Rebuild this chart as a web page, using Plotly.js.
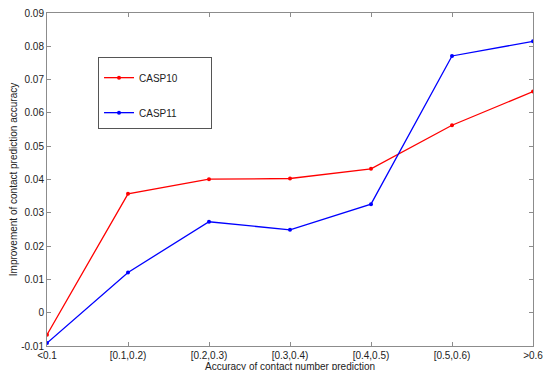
<!DOCTYPE html>
<html>
<head>
<meta charset="utf-8">
<script src="https://cdn.plot.ly/plotly-3.0.1.min.js"></script>
<style>html,body{margin:0;padding:0;background:#fff;}#chart{width:543px;height:370px;}</style>
</head>
<body>
<div id="chart"></div>
<script>
var categories = ["<0.1", "[0.1,0.2)", "[0.2,0.3)", "[0.3,0.4)", "[0.4,0.5)", "[0.5,0.6)", ">0.6"];
var casp10 = [-0.0066, 0.0357, 0.0401, 0.0403, 0.0432, 0.0563, 0.0664];
var casp11 = [-0.0091, 0.0121, 0.0273, 0.0249, 0.0326, 0.0771, 0.0815];
var yTickVals = [-0.01, 0, 0.01, 0.02, 0.03, 0.04, 0.05, 0.06, 0.07, 0.08, 0.09];
var yTickText = ["-0.01", "0", "0.01", "0.02", "0.03", "0.04", "0.05", "0.06", "0.07", "0.08", "0.09"];
var seriesNames = ["CASP10", "CASP11"];
var xTitle = "Accuracy of contact number prediction";
var yTitle = "Improvement of contact prediction accuracy";

var xIdx = categories.map(function(_, i){ return i; });
var pad = "\u00a0\u00a0\u00a0\u00a0\u00a0\u00a0\u00a0\u00a0\u00a0\u00a0";

var traces = [
  {x: xIdx, y: casp10, name: seriesNames[0] + pad, type: "scatter", mode: "lines+markers",
   line: {color: "#ff0000", width: 1.3}, marker: {color: "#ff0000", size: 4}, legendgroup: "a"},
  {x: xIdx, y: casp11, name: seriesNames[1] + pad, type: "scatter", mode: "lines+markers",
   line: {color: "#0000ff", width: 1.3}, marker: {color: "#0000ff", size: 4}, legendgroup: "b"}
];

var fnt = {family: "Liberation Sans, Arial, sans-serif", size: 10, color: "#222"};

var axisCommon = {
  showgrid: false, zeroline: false, showline: true, linecolor: "#8c8c8c", linewidth: 1,
  mirror: "ticks", ticks: "inside", ticklen: 4, tickcolor: "#8c8c8c",
  tickfont: fnt, ticklabeloverflow: "allow"
};

var layout = {
  width: 543, height: 370,
  margin: {l: 47, r: 10, t: 13, b: 24},
  paper_bgcolor: "#fff", plot_bgcolor: "#fff",
  showlegend: true,
  font: fnt,
  xaxis: Object.assign({}, axisCommon, {
    range: [0, 6], tickvals: xIdx, ticktext: categories, automargin: false,
    ticklabelstandoff: 0
  }),
  yaxis: Object.assign({}, axisCommon, {
    range: [-0.01, 0.09], tickvals: yTickVals, ticktext: yTickText, automargin: false,
    title: {text: yTitle, standoff: 1, font: fnt}
  }),
  annotations: [{
    text: xTitle, xref: "paper", yref: "paper", x: 0.5, y: 0,
    xanchor: "center", yanchor: "top", yshift: -13, showarrow: false, font: fnt
  }],
  legend: {
    x: 0.105, y: 0.868, xanchor: "left", yanchor: "top",
    bordercolor: "#555", borderwidth: 1, bgcolor: "#fff",
    traceorder: "grouped", tracegroupgap: 16,
    title: {text: "\u00a0", font: {size: 4}},
    font: fnt
  }
};

Plotly.newPlot("chart", traces, layout, {staticPlot: true, displayModeBar: false});
</script>
</body>
</html>
